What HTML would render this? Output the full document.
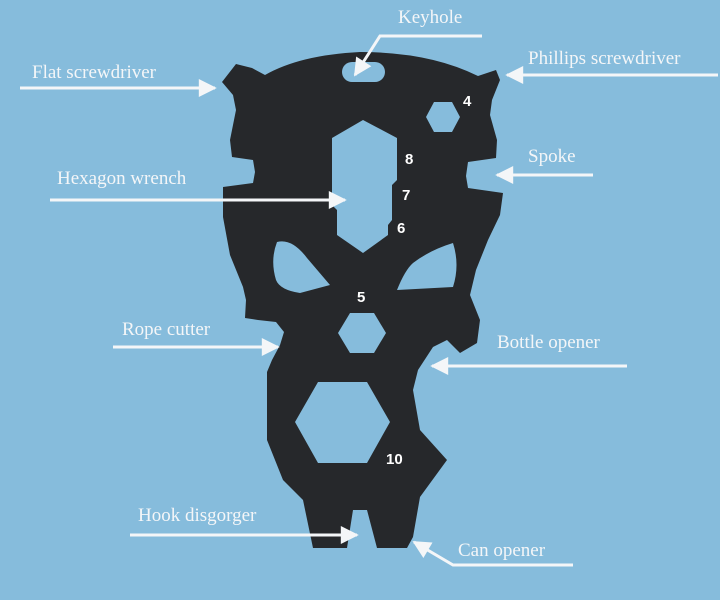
<!DOCTYPE html>
<html><head><meta charset="utf-8"><style>
html,body{margin:0;padding:0;background:#86bcdc;}
svg{display:block}
.l{font-family:"Liberation Serif",serif;font-size:19px;fill:#f4f6f8}
.n{font-family:"Liberation Sans",sans-serif;font-weight:bold;font-size:15px;fill:#fff}
</style></head><body>
<svg width="720" height="600" viewBox="0 0 720 600" xmlns="http://www.w3.org/2000/svg">
<rect width="720" height="600" fill="#86bcdc"/>
<defs><marker id="a" viewBox="0 0 10 10" refX="9" refY="5" markerWidth="7" markerHeight="6" orient="auto-start-reverse"><path d="M0,0 L10,5 L0,10 z" fill="#f4f6f8"/></marker></defs>
<path fill-rule="evenodd" fill="#26282b" d="
M222,82 L236,64 L252,68 L265,75 Q300,55 360,52 Q430,52 478,76 L496,70 L500,80 L492,100 L490,115 L497,140 L496,158 L468,162 L466,176 L468,188 L503,193 L500,215 L488,240 L476,270 L470,295 L480,320 L477,343 L460,353 L447,340 L433,347 L418,370 L413,390 L420,430 L447,460 L420,497 L413,537 L407,548 L377,548 L367,510 L353,510 L347,548 L313,548 L303,500 L283,480 L267,440 L267,372 L272,360 L280,345 L284,332 L276,322 L258,320 L245,318 L246,300 L243,287 L230,255 L223,217 L223,187 L253,183 L255,172 L253,160 L232,157 L230,140 L236,110 L233,95 Z
M352,62 H375 A10,10 0 0 1 375,82 H352 A10,10 0 0 1 352,62 Z
M426,117 L434,102 L452,102 L460,117 L452,132 L434,132 Z
M363,120 L397,138 L397,180 L392,185 L392,220 L388,225 L388,235 L363,253 L337,235 L337,210 L332,205 L332,138 Z
M277,242 Q292,238 307,258 L330,285 L300,293 Q280,290 276,280 Q270,260 277,242 Z
M453,243 Q460,265 453,287 L397,290 Q405,270 413,263 Q430,250 453,243 Z
M338,333 L350,313 L374,313 L386,333 L374,353 L350,353 Z
M295,422 L318,382 L367,382 L390,422 L367,463 L318,463 Z"/>
<g fill="none" stroke="#f4f6f8" stroke-width="3">
<line x1="20" y1="88" x2="215" y2="88" marker-end="url(#a)"/>
<polyline points="482,36 380,36 355,75" marker-end="url(#a)"/>
<line x1="718" y1="75" x2="507" y2="75" marker-end="url(#a)"/>
<line x1="593" y1="175" x2="497" y2="175" marker-end="url(#a)"/>
<line x1="50" y1="200" x2="345" y2="200" marker-end="url(#a)"/>
<line x1="113" y1="347" x2="278" y2="347" marker-end="url(#a)"/>
<line x1="627" y1="366" x2="432" y2="366" marker-end="url(#a)"/>
<line x1="130" y1="535" x2="357" y2="535" marker-end="url(#a)"/>
<polyline points="573,565 453,565 414,542" marker-end="url(#a)"/>
</g>
<text class="l" x="398" y="23">Keyhole</text>
<text class="l" x="32" y="78">Flat screwdriver</text>
<text class="l" x="528" y="64">Phillips screwdriver</text>
<text class="l" x="528" y="162">Spoke</text>
<text class="l" x="57" y="184">Hexagon wrench</text>
<text class="l" x="122" y="335">Rope cutter</text>
<text class="l" x="497" y="348">Bottle opener</text>
<text class="l" x="138" y="521">Hook disgorger</text>
<text class="l" x="458" y="556">Can opener</text>
<text class="n" x="463" y="106">4</text>
<text class="n" x="405" y="164">8</text>
<text class="n" x="402" y="200">7</text>
<text class="n" x="397" y="233">6</text>
<text class="n" x="357" y="302">5</text>
<text class="n" x="386" y="464">10</text>
</svg>
</body></html>
